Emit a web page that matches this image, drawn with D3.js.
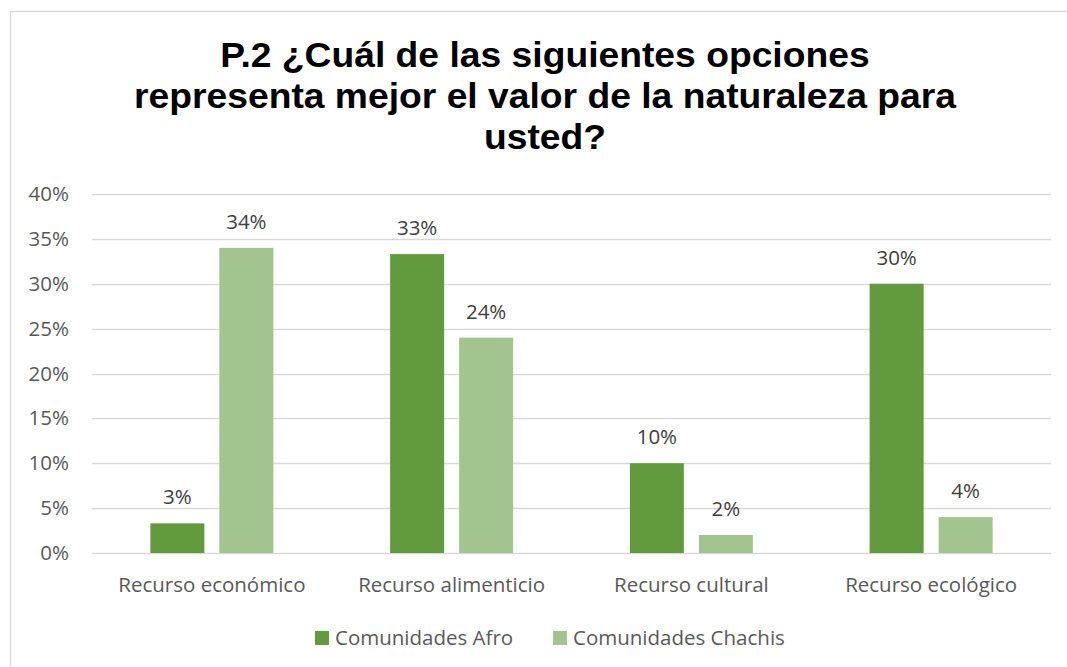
<!DOCTYPE html>
<html>
<head>
<meta charset="utf-8">
<script src="https://cdn.jsdelivr.net/npm/d3@7"></script>
<style>
  body { margin: 0; background: #fff; }
  svg { display: block; }
</style>
</head>
<body>
<svg id="chart"></svg>
<script>
const categories = ["Recurso económico", "Recurso alimenticio", "Recurso cultural", "Recurso ecológico"];
const seriesNames = ["Comunidades Afro", "Comunidades Chachis"];
const afro = [0.033, 0.333, 0.10, 0.30];
const chachis = [0.34, 0.24, 0.02, 0.04];
const labelsAfro = ["3%", "33%", "10%", "30%"];
const labelsChachis = ["34%", "24%", "2%", "4%"];
const yTicks = [0, 0.05, 0.1, 0.15, 0.2, 0.25, 0.3, 0.35, 0.4];
const titleLines = [
  "P.2 ¿Cuál de las siguientes opciones",
  "representa mejor el valor de la naturaleza para",
  "usted?"
];

const width = 1067;
const height = 667;
const colors = ["#629a3e", "#a2c590"];
const labelFont = "'Open Sans', 'Noto Sans', sans-serif";
const labelSize = 20.5;

const svg = d3.select("#chart").attr("width", width).attr("height", height);

// chart frame (runs off the right and bottom edges)
svg.append("rect")
  .attr("x", 10.5).attr("y", 11.5)
  .attr("width", width + 20).attr("height", height + 20)
  .attr("fill", "#fff")
  .attr("stroke", "#d9d9d9")
  .attr("stroke-width", 1.5);

// title
const title = svg.append("g").attr("transform", "translate(545,0) scale(1.035,1)");
title.selectAll("text")
  .data(titleLines)
  .enter()
  .append("text")
  .attr("x", 0)
  .attr("y", (d, i) => 67 + i * 41)
  .attr("text-anchor", "middle")
  .attr("font-family", "'Liberation Sans', Arial, sans-serif")
  .attr("font-weight", "bold")
  .attr("font-size", 36)
  .attr("fill", "#000")
  .text((d) => d);

const x0 = d3.scaleBand().domain(categories).range([92, 1051]);
const y = d3.scaleLinear().domain([0, 0.4]).range([553, 194]);

// gridlines
svg.append("g")
  .selectAll("line")
  .data(yTicks)
  .enter()
  .append("line")
  .attr("x1", 92).attr("x2", 1051)
  .attr("y1", (d) => Math.round(y(d)) + 0.5)
  .attr("y2", (d) => Math.round(y(d)) + 0.5)
  .attr("stroke", "#d9d9d9")
  .attr("stroke-width", 1.5);

const yAxis = d3.axisLeft(y).tickValues(yTicks).tickFormat(d3.format(".0%")).tickSize(0).tickPadding(0);
svg.append("g")
  .attr("transform", "translate(69,0)")
  .call(yAxis)
  .call((g) => g.select(".domain").remove())
  .call((g) => g.selectAll("text")
    .attr("font-family", labelFont)
    .attr("font-size", labelSize)
    .attr("fill", "#595959"));

const xAxis = d3.axisBottom(x0).tickSize(0).tickPadding(0);
svg.append("g")
  .attr("transform", "translate(0,577)")
  .call(xAxis)
  .call((g) => g.select(".domain").remove())
  .call((g) => g.selectAll("text")
    .attr("font-family", labelFont)
    .attr("font-size", labelSize)
    .attr("fill", "#595959"));

// bars
const barW = 54;
const offsets = [-34.5, 34.5];
const series = [
  { name: seriesNames[0], values: afro, labels: labelsAfro, color: colors[0] },
  { name: seriesNames[1], values: chachis, labels: labelsChachis, color: colors[1] }
];

series.forEach((s, si) => {
  const g = svg.append("g");
  const cx = (i) => x0(categories[i]) + x0.bandwidth() / 2 + offsets[si];
  g.selectAll("rect")
    .data(s.values)
    .enter()
    .append("rect")
    .attr("x", (d, i) => cx(i) - barW / 2)
    .attr("y", (d) => y(d))
    .attr("width", barW)
    .attr("height", (d) => y(0) - y(d))
    .attr("fill", s.color);
  g.selectAll("text")
    .data(s.values)
    .enter()
    .append("text")
    .attr("x", (d, i) => cx(i))
    .attr("y", (d) => y(d) - 19)
    .attr("text-anchor", "middle")
    .attr("font-family", labelFont)
    .attr("font-size", labelSize)
    .attr("fill", "#404040")
    .text((d, i) => s.labels[i]);
});

// legend
const legendX = [315, 553];
const legend = svg.append("g");
series.forEach((s, si) => {
  legend.append("rect")
    .attr("x", legendX[si]).attr("y", 631)
    .attr("width", 14).attr("height", 14)
    .attr("fill", s.color);
  legend.append("text")
    .attr("x", legendX[si] + 20).attr("y", 645)
    .attr("font-family", labelFont)
    .attr("font-size", labelSize)
    .attr("fill", "#595959")
    .text(s.name);
});
</script>
</body>
</html>
